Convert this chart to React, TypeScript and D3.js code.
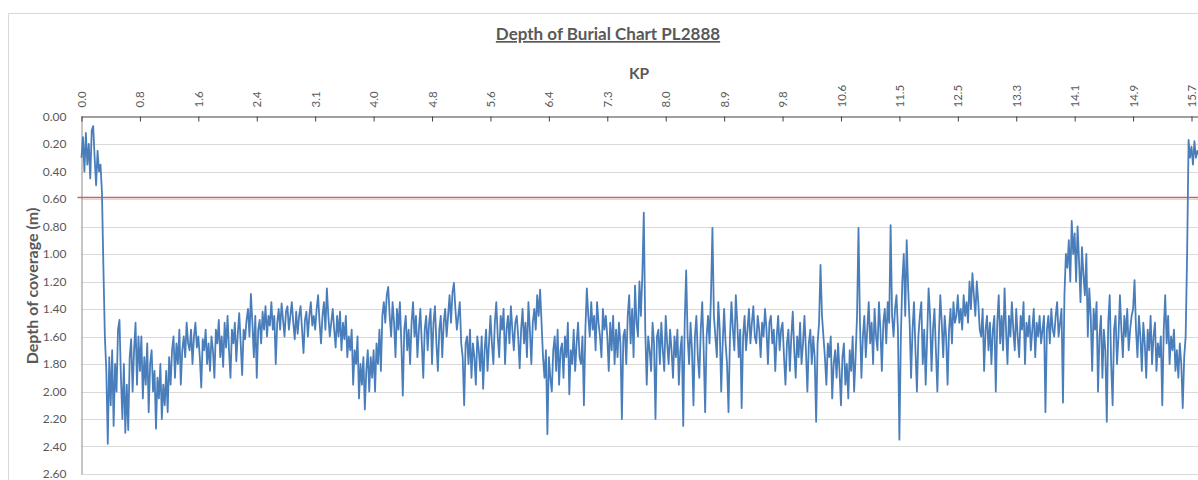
import React, { useRef, useEffect } from "react";
import * as d3 from "d3";

// KP labels shown on the top category axis (one every 40 readings)
const kpLabels: string[] = [
  "0.0", "0.8", "1.6", "2.4", "3.1", "4.0", "4.8", "5.6", "6.4", "7.3",
  "8.0", "8.9", "9.8", "10.6", "11.5", "12.5", "13.3", "14.1", "14.9", "15.7",
];

const yTicks: number[] = [0, 0.2, 0.4, 0.6, 0.8, 1.0, 1.2, 1.4, 1.6, 1.8, 2.0, 2.2, 2.4, 2.6];

const targetDepth = 0.6;

// depth of coverage readings (m)
const depth: number[] = [
  // 0.0 - 0.8
  0.30, 0.15, 0.40, 0.12, 0.35, 0.20, 0.45, 0.10, 0.07, 0.30,
  0.50, 0.25, 0.40, 0.35, 0.55, 1.10, 1.60, 1.85, 2.38, 1.75,
  2.10, 1.70, 2.25, 1.80, 2.00, 1.55, 1.48, 1.90, 2.20, 1.80,
  2.30, 1.95, 2.28, 1.75, 1.62, 2.00, 1.70, 1.50, 1.95, 1.60,
  // 0.8 - 1.6
  1.85, 1.60, 2.05, 1.75, 1.95, 1.65, 2.15, 1.80, 1.70, 2.00,
  1.85, 2.27, 1.90, 2.05, 1.80, 2.20, 1.95, 2.10, 1.85, 2.15,
  1.75, 1.95, 1.70, 1.60, 1.90, 1.65, 1.80, 1.55, 1.95, 1.70,
  1.60, 1.75, 1.50, 1.65, 1.70, 1.55, 1.80, 1.60, 1.50, 1.68,
  // 1.6 - 2.4
  1.60, 1.75, 1.97, 1.62, 1.70, 1.55, 1.80, 1.65, 1.85, 1.60,
  1.70, 1.90, 1.55, 1.65, 1.48, 1.75, 1.60, 1.82, 1.50, 1.68,
  1.45, 1.70, 1.90, 1.55, 1.65, 1.50, 1.78, 1.58, 1.43, 1.65,
  1.88, 1.55, 1.62, 1.48, 1.40, 1.60, 1.29, 1.50, 1.75, 1.45,
  // 2.4 - 3.1
  1.90, 1.55, 1.48, 1.65, 1.42, 1.55, 1.38, 1.60, 1.45, 1.52,
  1.35, 1.55, 1.45, 1.80, 1.50, 1.40, 1.55, 1.36, 1.48, 1.60,
  1.42, 1.38, 1.55, 1.45, 1.35, 1.50, 1.62, 1.42, 1.58, 1.45,
  1.38, 1.55, 1.72, 1.48, 1.42, 1.60, 1.45, 1.35, 1.52, 1.45,
  // 3.1 - 4.0
  1.55, 1.40, 1.30, 1.50, 1.65, 1.45, 1.35, 1.55, 1.25, 1.45,
  1.60, 1.50, 1.40, 1.55, 1.68, 1.45, 1.60, 1.42, 1.70, 1.50,
  1.62, 1.45, 1.75, 1.60, 1.70, 1.55, 1.95, 1.70, 1.80, 1.60,
  2.05, 1.80, 1.95, 1.75, 2.13, 1.85, 1.70, 2.00, 1.75, 1.90,
  // 4.0 - 4.8
  1.70, 2.00, 1.65, 1.80, 1.55, 1.85, 1.45, 1.35, 1.50, 1.30,
  1.24, 1.45, 1.60, 1.35, 1.50, 1.75, 1.40, 1.55, 1.35, 1.65,
  2.03, 1.55, 1.45, 1.70, 1.55, 1.80, 1.50, 1.35, 1.60, 1.45,
  1.75, 1.55, 1.40, 1.65, 1.90, 1.55, 1.45, 1.70, 1.50, 1.40,
  // 4.8 - 5.6
  1.80, 1.50, 1.38, 1.65, 1.85, 1.55, 1.45, 1.75, 1.50, 1.40,
  1.60, 1.45, 1.30, 1.50, 1.28, 1.21, 1.40, 1.55, 1.45, 1.35,
  1.65, 1.75, 2.10, 1.65, 1.60, 1.80, 1.55, 1.90, 1.65, 1.75,
  1.95, 1.60, 1.70, 1.85, 1.60, 1.98, 1.70, 1.55, 1.85, 1.65,
  // 5.6 - 6.4
  1.45, 1.65, 1.80, 1.50, 1.35, 1.60, 1.75, 1.45, 1.55, 1.40,
  1.80, 1.55, 1.45, 1.65, 1.38, 1.55, 1.70, 1.50, 1.45, 1.60,
  1.83, 1.55, 1.40, 1.65, 1.50, 1.75, 1.35, 1.55, 1.80, 1.50,
  1.40, 1.55, 1.30, 1.45, 1.26, 1.50, 1.75, 1.90, 1.70, 2.31,
  // 6.4 - 7.3
  1.75, 1.90, 2.00, 1.70, 1.60, 1.85, 1.55, 1.95, 1.70, 1.65,
  1.90, 1.60, 1.75, 1.50, 2.02, 1.70, 1.80, 1.55, 1.85, 1.65,
  1.50, 1.75, 1.80, 1.60, 2.10, 1.55, 1.25, 1.45, 1.60, 1.35,
  1.55, 1.45, 1.70, 1.35, 1.50, 1.60, 1.75, 1.40, 1.55, 1.45,
  // 7.3 - 8.0
  1.60, 1.85, 1.50, 1.70, 1.45, 1.80, 1.55, 1.75, 1.50, 1.65,
  2.20, 1.60, 1.55, 1.80, 1.45, 1.30, 1.65, 1.40, 1.75, 1.23,
  1.50, 1.60, 1.20, 1.45, 1.15, 0.70, 1.55, 1.95, 1.60, 1.70,
  1.85, 1.50, 1.65, 2.20, 1.60, 1.55, 1.80, 1.50, 1.70, 1.85,
  // 8.0 - 8.9
  1.45, 1.65, 1.80, 1.55, 1.70, 1.90, 1.60, 1.75, 1.55, 1.95,
  1.70, 1.60, 2.25, 1.50, 1.12, 1.60, 1.80, 1.50, 1.70, 2.10,
  1.60, 1.45, 1.75, 1.90, 1.55, 1.35, 1.70, 2.15, 1.60, 1.45,
  1.65, 1.30, 0.81, 1.45, 1.60, 1.75, 1.35, 1.55, 2.00, 1.65,
  // 8.9 - 9.8
  1.40, 1.65, 1.80, 2.15, 1.60, 1.35, 1.55, 1.70, 1.30, 1.50,
  1.75, 1.55, 2.12, 1.60, 1.45, 1.70, 1.55, 1.40, 1.65, 1.50,
  1.38, 1.60, 1.65, 1.45, 1.55, 1.75, 1.50, 1.60, 1.40, 1.55,
  1.80, 1.50, 1.45, 1.65, 1.55, 1.85, 1.60, 1.45, 1.70, 1.55,
  // 9.8 - 10.6
  1.50, 1.75, 1.95, 1.65, 1.55, 1.85, 1.60, 1.42, 1.70, 1.90,
  1.60, 1.75, 1.50, 1.80, 1.65, 1.45, 1.70, 2.00, 1.65, 1.55,
  1.80, 1.60, 1.75, 2.22, 1.65, 1.50, 1.08, 1.45, 1.60, 1.75,
  1.95, 1.65, 1.75, 1.60, 2.05, 1.80, 1.70, 1.90, 1.65, 1.85,
  // 10.6 - 11.5
  2.10, 1.75, 1.65, 1.95, 1.80, 2.05, 1.70, 1.85, 1.60, 2.00,
  1.75, 1.45, 0.81, 1.50, 1.90, 1.60, 1.45, 1.75, 1.55, 1.35,
  1.65, 1.50, 1.80, 1.40, 1.60, 1.70, 1.35, 1.55, 1.85, 1.50,
  1.40, 1.65, 1.35, 1.50, 0.79, 1.45, 1.60, 1.40, 1.30, 1.55,
  // 11.5 - 12.5
  2.35, 1.60, 1.20, 1.00, 1.45, 0.90, 1.25, 1.50, 1.90, 1.55,
  1.35, 1.70, 2.00, 1.60, 1.45, 1.35, 1.80, 1.55, 1.95, 1.60,
  1.25, 1.45, 1.85, 1.55, 1.40, 1.70, 2.00, 1.60, 1.30, 1.50,
  1.75, 1.45, 1.60, 1.95, 1.55, 1.40, 1.65, 1.35, 1.50, 1.45,
  // 12.5 - 13.3
  1.30, 1.50, 1.40, 1.55, 1.30, 1.45, 1.35, 1.50, 1.20, 1.40,
  1.14, 1.30, 1.45, 1.20, 1.35, 1.55, 1.60, 1.40, 1.85, 1.55,
  1.45, 1.70, 1.50, 1.80, 1.55, 1.45, 2.00, 1.50, 1.30, 1.65,
  1.45, 1.70, 1.25, 1.55, 1.80, 1.45, 1.60, 1.35, 1.55, 1.70,
  // 13.3 - 14.1
  1.40, 1.60, 1.75, 1.45, 1.55, 1.35, 1.80, 1.50, 1.60, 1.45,
  1.70, 1.55, 1.40, 1.75, 1.50, 1.60, 1.45, 1.65, 1.55, 1.45,
  2.15, 1.55, 1.45, 1.65, 1.40, 1.55, 1.60, 1.45, 1.35, 1.60,
  1.50, 1.40, 2.08, 1.30, 1.00, 1.10, 0.90, 1.20, 0.76, 1.00,
  // 14.1 - 14.9
  0.85, 1.20, 0.80, 1.05, 1.35, 0.95, 1.15, 1.30, 1.00, 1.60,
  1.25, 1.45, 1.85, 1.40, 1.55, 1.35, 2.00, 1.60, 1.45, 1.90,
  1.55, 1.70, 2.22, 1.50, 1.30, 1.80, 2.10, 1.55, 1.45, 1.80,
  1.60, 1.30, 1.55, 1.75, 1.45, 1.60, 1.40, 1.70, 1.55, 1.45,
  // 14.9 - 15.7
  1.40, 1.19, 1.55, 1.75, 1.45, 1.60, 1.85, 1.50, 1.65, 1.90,
  1.55, 1.70, 1.45, 1.80, 1.60, 1.50, 1.85, 1.65, 1.75, 1.60,
  2.10, 1.55, 1.30, 1.65, 1.45, 1.80, 1.60, 1.70, 1.55, 1.85,
  1.70, 1.90, 1.65, 1.80, 2.12, 1.75, 1.60, 1.00, 0.17, 0.30,
  // 15.7 onwards
  0.22, 0.35, 0.18, 0.30, 0.25, 0.28,
];

const readingsPerLabel = 40;

const App: React.FC = () => {
  const svgRef = useRef<SVGSVGElement | null>(null);

  useEffect(() => {
    const svg = d3.select(svgRef.current);
    const width = 1198;
    const height = 480;
    const margin = { top: 116.5, left: 81.5 };
    const font = "Lato, 'Open Sans', sans-serif";
    const textColor = "#595959";

    svg.selectAll("*").remove();

    // chart area border
    svg
      .append("rect")
      .attr("x", 8.5)
      .attr("y", 13.5)
      .attr("width", width + 20)
      .attr("height", height + 20)
      .attr("fill", "#fff")
      .attr("stroke", "#d9d9d9");

    const lastLabel = (kpLabels.length - 1) * readingsPerLabel;
    const x = d3
      .scaleLinear()
      .domain([0, lastLabel])
      .range([margin.left, 1191.5]);

    const y = d3
      .scaleLinear()
      .domain([0, 2.6])
      .range([margin.top, 474]);

    // gridlines
    svg
      .append("g")
      .selectAll("line")
      .data(yTicks.slice(1))
      .join("line")
      .attr("x1", margin.left)
      .attr("x2", width)
      .attr("y1", (d) => Math.round(y(d)) + 0.5)
      .attr("y2", (d) => Math.round(y(d)) + 0.5)
      .attr("stroke", "#d9d9d9")
      .attr("stroke-width", 1);

    // y axis
    const yAxis = svg
      .append("g")
      .attr("transform", `translate(${margin.left},0)`)
      .call(
        d3
          .axisLeft(y)
          .tickValues(yTicks)
          .tickSize(0)
          .tickPadding(15)
          .tickFormat((d) => d3.format(".2f")(d as number))
      );
    yAxis.select(".domain").attr("stroke", "#8c8c8c");
    yAxis
      .selectAll("text")
      .attr("fill", textColor)
      .attr("font-family", font)
      .attr("font-size", 12);

    // target depth line
    svg
      .append("line")
      .attr("x1", margin.left - 4)
      .attr("x2", width)
      .attr("y1", y(targetDepth) - 1.5)
      .attr("y2", y(targetDepth) - 1.5)
      .attr("stroke", "#c86464")
      .attr("stroke-width", 1.5);

    // depth series
    const line = d3
      .line<number>()
      .x((_, i) => x(i))
      .y((d) => y(d));

    svg
      .append("path")
      .datum(depth)
      .attr("d", line)
      .attr("fill", "none")
      .attr("stroke", "#4a7ebb")
      .attr("stroke-width", 1.8)
      .attr("stroke-linejoin", "round");

    // top KP axis
    const xAxis = svg
      .append("g")
      .attr("transform", `translate(0,${margin.top})`)
      .call(
        d3
          .axisTop(x)
          .tickValues(kpLabels.map((_, i) => i * readingsPerLabel))
          .tickSizeInner(-5)
          .tickSizeOuter(0)
          .tickFormat((_, i) => kpLabels[i])
      );
    xAxis
      .select(".domain")
      .attr("stroke", "#404040")
      .attr("d", `M${margin.left},0.5H${width}`);
    xAxis.selectAll(".tick line").attr("stroke", "#404040");
    xAxis
      .selectAll("text")
      .attr("fill", textColor)
      .attr("font-family", font)
      .attr("font-size", 11.5)
      .attr("text-anchor", "start")
      .attr("transform", "translate(0,-9) rotate(-90)")
      .attr("x", 0)
      .attr("y", 0)
      .attr("dy", "0.35em");

    // axis titles
    svg
      .append("text")
      .attr("x", 639)
      .attr("y", 79)
      .attr("text-anchor", "middle")
      .attr("font-family", font)
      .attr("font-weight", "bold")
      .attr("font-size", 15.5)
      .attr("fill", textColor)
      .text("KP");

    svg
      .append("text")
      .attr("transform", "translate(38,286) rotate(-90)")
      .attr("text-anchor", "middle")
      .attr("font-family", font)
      .attr("font-weight", "bold")
      .attr("font-size", 16)
      .attr("fill", textColor)
      .text("Depth of coverage (m)");

    // chart title
    svg
      .append("text")
      .attr("x", 608)
      .attr("y", 40)
      .attr("text-anchor", "middle")
      .attr("font-family", font)
      .attr("font-weight", "bold")
      .attr("font-size", 17)
      .attr("fill", textColor)
      .attr("text-decoration", "underline")
      .text("Depth of Burial Chart PL2888");
  }, []);

  return (
    <div style={{ position: "absolute", left: 0, top: 0 }}>
      <svg ref={svgRef} width="1198" height="480" style={{ display: "block", background: "#fff" }} />
    </div>
  );
};

export default App;
